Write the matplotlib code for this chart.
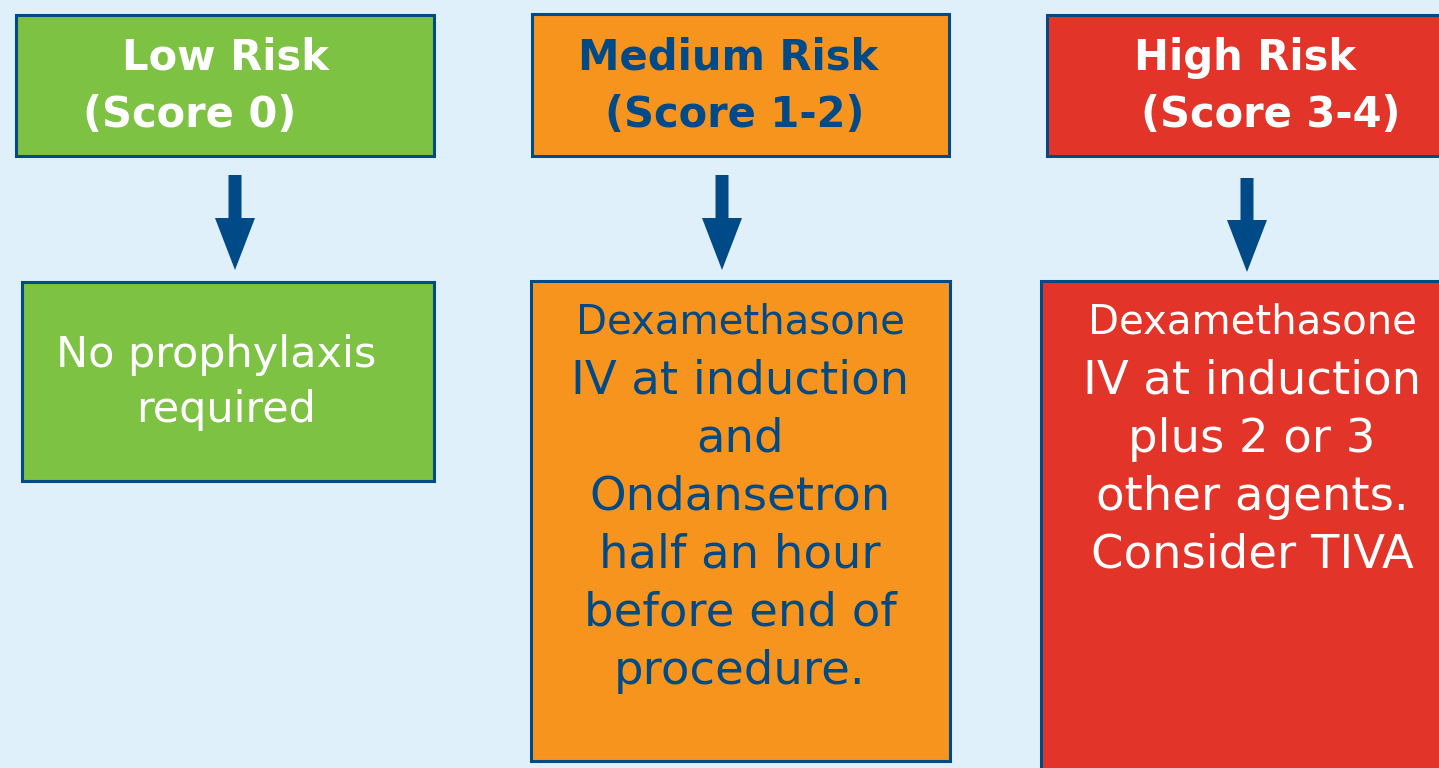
import matplotlib.pyplot as plt
from matplotlib.patches import Rectangle, FancyArrow

# colours
BG = '#dff0fa'
EDGE = '#004a87'
GREEN = '#7dc242'
ORANGE = '#f7941e'
RED = '#e23428'
WHITE = '#ffffff'

# header boxes: (x0, y0, x1, y1) in pixels, fill colour, text colour
header_boxes = [(16, 15, 434, 156), (532, 14, 949, 156), (1047, 15, 1445, 156)]
header_fill = [GREEN, ORANGE, RED]
header_text_color = [WHITE, EDGE, WHITE]
header_line1 = ['Low Risk', 'Medium Risk', 'High Risk']
header_line1_x = [225, 728, 1245]
header_line2 = ['(Score 0)', '(Score 1-2)', '(Score 3-4)']
header_line2_x = [190, 735, 1271]

# body boxes
body_boxes = [(22, 282, 434, 481), (531, 281, 950, 761), (1041, 281, 1445, 775)]
body_text_color = [WHITE, EDGE, WHITE]
body_lines = [
    ['No prophylaxis', 'required'],
    ['Dexamethasone', 'IV at induction', 'and', 'Ondansetron',
     'half an hour', 'before end of', 'procedure.'],
    ['Dexamethasone', 'IV at induction', 'plus 2 or 3',
     'other agents.', 'Consider TIVA'],
]
body_line_x = [[216, 226], [740] * 7, [1252] * 5]
body_first_y = [355, 323, 323]
body_step = [55, 58, 58]

# arrows: centre x, top y, tip y
arrow_x = [235, 722, 1247]
arrow_top = [175, 175, 178]
arrow_tip = [270, 270, 272]

fig = plt.figure(figsize=(14.39, 7.68), dpi=100)
fig.patch.set_facecolor(BG)
ax = fig.add_axes([0, 0, 1, 1])
ax.set_xlim(0, 1439)
ax.set_ylim(768, 0)
ax.axis('off')
ax.set_facecolor(BG)


def box(x0, y0, x1, y1, fill):
    ax.add_patch(Rectangle((x0, y0), x1 - x0, y1 - y0, facecolor=fill,
                           edgecolor=EDGE, linewidth=2.2))


for i in range(3):
    box(*header_boxes[i], header_fill[i])
    ax.text(header_line1_x[i], 58, header_line1[i], ha='center', va='center',
            fontsize=30, fontweight='bold', color=header_text_color[i])
    ax.text(header_line2_x[i], 115, header_line2[i], ha='center', va='center',
            fontsize=30, fontweight='bold', color=header_text_color[i])

    box(*body_boxes[i], header_fill[i])
    for j, line in enumerate(body_lines[i]):
        if i == 0:
            size = 31
        elif j == 0:
            size = 29
        else:
            size = 33.5
        ax.text(body_line_x[i][j], body_first_y[i] + j * body_step[i], line,
                ha='center', va='center', fontsize=size,
                color=body_text_color[i])

    ax.add_patch(FancyArrow(arrow_x[i], arrow_top[i], 0,
                            arrow_tip[i] - arrow_top[i], width=13,
                            head_width=40, head_length=52,
                            length_includes_head=True, color=EDGE, lw=0))

fig.savefig('out.png', dpi=100, facecolor=BG)
